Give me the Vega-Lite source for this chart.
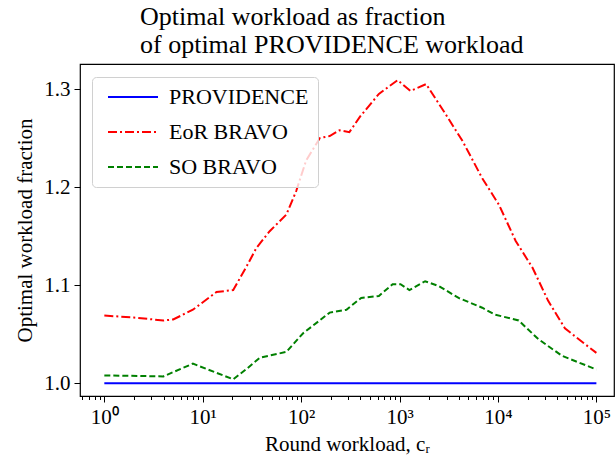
{
  "$schema": "https://vega.github.io/schema/vega-lite/v6.json",
  "width": 534,
  "height": 332,
  "autosize": {"type": "none"},
  "padding": {"left": 80, "top": 64, "right": 2, "bottom": 62},
  "background": "white",
  "config": {
    "font": "Liberation Serif",
    "view": {"stroke": "black", "strokeWidth": 1.2},
    "axis": {"domain": false, "grid": false, "tickColor": "black", "labelColor": "black", "titleColor": "black", "titleFontWeight": "normal"}
  },
  "title": {
    "text": ["Optimal workload as fraction", "of optimal PROVIDENCE workload"],
    "anchor": "start",
    "frame": "group",
    "dx": 60,
    "fontSize": 26,
    "fontWeight": "normal",
    "color": "black",
    "lineHeight": 28,
    "offset": 6
  },
  "data": {
    "values": [
      {"x": 1, "y": 1.0, "s": "PROVIDENCE"},
      {"x": 10, "y": 1.0, "s": "PROVIDENCE"},
      {"x": 100, "y": 1.0, "s": "PROVIDENCE"},
      {"x": 1000, "y": 1.0, "s": "PROVIDENCE"},
      {"x": 10000, "y": 1.0, "s": "PROVIDENCE"},
      {"x": 100000, "y": 1.0, "s": "PROVIDENCE"},

      {"x": 1, "y": 1.069, "s": "EoR BRAVO"},
      {"x": 2.0, "y": 1.067, "s": "EoR BRAVO"},
      {"x": 3.98, "y": 1.064, "s": "EoR BRAVO"},
      {"x": 5.01, "y": 1.065, "s": "EoR BRAVO"},
      {"x": 7.94, "y": 1.075, "s": "EoR BRAVO"},
      {"x": 13.8, "y": 1.093, "s": "EoR BRAVO"},
      {"x": 20.4, "y": 1.095, "s": "EoR BRAVO"},
      {"x": 28.2, "y": 1.12, "s": "EoR BRAVO"},
      {"x": 35.1, "y": 1.138, "s": "EoR BRAVO"},
      {"x": 47.9, "y": 1.155, "s": "EoR BRAVO"},
      {"x": 70.8, "y": 1.172, "s": "EoR BRAVO"},
      {"x": 89.1, "y": 1.196, "s": "EoR BRAVO"},
      {"x": 112.2, "y": 1.227, "s": "EoR BRAVO"},
      {"x": 154.9, "y": 1.25, "s": "EoR BRAVO"},
      {"x": 195, "y": 1.252, "s": "EoR BRAVO"},
      {"x": 245.5, "y": 1.258, "s": "EoR BRAVO"},
      {"x": 309, "y": 1.256, "s": "EoR BRAVO"},
      {"x": 398, "y": 1.272, "s": "EoR BRAVO"},
      {"x": 616.6, "y": 1.295, "s": "EoR BRAVO"},
      {"x": 955, "y": 1.309, "s": "EoR BRAVO"},
      {"x": 1288, "y": 1.298, "s": "EoR BRAVO"},
      {"x": 1862, "y": 1.305, "s": "EoR BRAVO"},
      {"x": 2951, "y": 1.274, "s": "EoR BRAVO"},
      {"x": 4365, "y": 1.247, "s": "EoR BRAVO"},
      {"x": 6918, "y": 1.209, "s": "EoR BRAVO"},
      {"x": 10233, "y": 1.182, "s": "EoR BRAVO"},
      {"x": 15136, "y": 1.145, "s": "EoR BRAVO"},
      {"x": 22387, "y": 1.118, "s": "EoR BRAVO"},
      {"x": 32359, "y": 1.084, "s": "EoR BRAVO"},
      {"x": 47863, "y": 1.056, "s": "EoR BRAVO"},
      {"x": 74131, "y": 1.041, "s": "EoR BRAVO"},
      {"x": 100000, "y": 1.031, "s": "EoR BRAVO"},

      {"x": 1, "y": 1.008, "s": "SO BRAVO"},
      {"x": 3.98, "y": 1.007, "s": "SO BRAVO"},
      {"x": 7.94, "y": 1.02, "s": "SO BRAVO"},
      {"x": 20.4, "y": 1.004, "s": "SO BRAVO"},
      {"x": 28.2, "y": 1.015, "s": "SO BRAVO"},
      {"x": 38.0, "y": 1.026, "s": "SO BRAVO"},
      {"x": 70.8, "y": 1.032, "s": "SO BRAVO"},
      {"x": 104.7, "y": 1.051, "s": "SO BRAVO"},
      {"x": 195, "y": 1.072, "s": "SO BRAVO"},
      {"x": 288.4, "y": 1.075, "s": "SO BRAVO"},
      {"x": 407.4, "y": 1.087, "s": "SO BRAVO"},
      {"x": 616.6, "y": 1.089, "s": "SO BRAVO"},
      {"x": 851, "y": 1.101, "s": "SO BRAVO"},
      {"x": 1023, "y": 1.101, "s": "SO BRAVO"},
      {"x": 1259, "y": 1.095, "s": "SO BRAVO"},
      {"x": 1820, "y": 1.104, "s": "SO BRAVO"},
      {"x": 2512, "y": 1.099, "s": "SO BRAVO"},
      {"x": 3981, "y": 1.087, "s": "SO BRAVO"},
      {"x": 6918, "y": 1.077, "s": "SO BRAVO"},
      {"x": 9333, "y": 1.07, "s": "SO BRAVO"},
      {"x": 16218, "y": 1.064, "s": "SO BRAVO"},
      {"x": 25704, "y": 1.045, "s": "SO BRAVO"},
      {"x": 44668, "y": 1.028, "s": "SO BRAVO"},
      {"x": 100000, "y": 1.014, "s": "SO BRAVO"}
    ]
  },
  "mark": {"type": "line", "strokeWidth": 2, "clip": true},
  "encoding": {
    "x": {
      "field": "x",
      "type": "quantitative",
      "scale": {"type": "log", "domain": [0.566, 151000], "nice": false},
      "axis": {
        "title": "Round workload, cᵣ",
        "titleFontSize": 21,
        "titlePadding": 6,
        "labelFontSize": 21,
        "labelPadding": 4,
        "labelOverlap": false,
        "labelFlush": false,
        "values": [0.6, 0.7, 0.8, 0.9, 1, 2, 3, 4, 5, 6, 7, 8, 9, 10, 20, 30, 40, 50, 60, 70, 80, 90, 100, 200, 300, 400, 500, 600, 700, 800, 900, 1000, 2000, 3000, 4000, 5000, 6000, 7000, 8000, 9000, 10000, 20000, 30000, 40000, 50000, 60000, 70000, 80000, 90000, 100000],
        "labelExpr": "abs(log(datum.value)/LN10 - round(log(datum.value)/LN10)) < 0.001 ? ['10⁰','10¹','10²','10³','10⁴','10⁵'][round(log(datum.value)/LN10)] : ''",
        "tickSize": {"condition": {"test": "abs(log(datum.value)/LN10 - round(log(datum.value)/LN10)) < 0.001", "value": 6}, "value": 3.5},
        "tickWidth": 1
      }
    },
    "y": {
      "field": "y",
      "type": "quantitative",
      "scale": {"domain": [0.987, 1.3255], "nice": false, "zero": false},
      "axis": {
        "title": "Optimal workload fraction",
        "titleFontSize": 21,
        "titlePadding": 8,
        "labelFontSize": 21,
        "values": [1.0, 1.1, 1.2, 1.3],
        "format": ".1f",
        "tickSize": 6,
        "labelPadding": 4
      }
    },
    "color": {
      "field": "s",
      "type": "nominal",
      "scale": {"domain": ["PROVIDENCE", "EoR BRAVO", "SO BRAVO"], "range": ["#0000ff", "#ff0000", "#008000"]},
      "legend": {
        "title": null,
        "orient": "none",
        "legendX": 12,
        "legendY": 13,
        "symbolType": "M-12.5,0H12.5",
        "symbolSize": 16,
        "symbolOffset": 21,
        "symbolStrokeWidth": 2,
        "labelFontSize": 22,
        "labelColor": "black",
        "labelOffset": 25,
        "rowPadding": 13,
        "padding": 9,
        "fillColor": "rgba(255,255,255,0.8)",
        "strokeColor": "#d0d0d0",
        "cornerRadius": 4
      }
    },
    "strokeDash": {
      "field": "s",
      "type": "nominal",
      "scale": {"domain": ["PROVIDENCE", "EoR BRAVO", "SO BRAVO"], "range": [[1, 0], [9, 3, 2, 3], [6, 3]]},
      "legend": null
    }
  }
}
